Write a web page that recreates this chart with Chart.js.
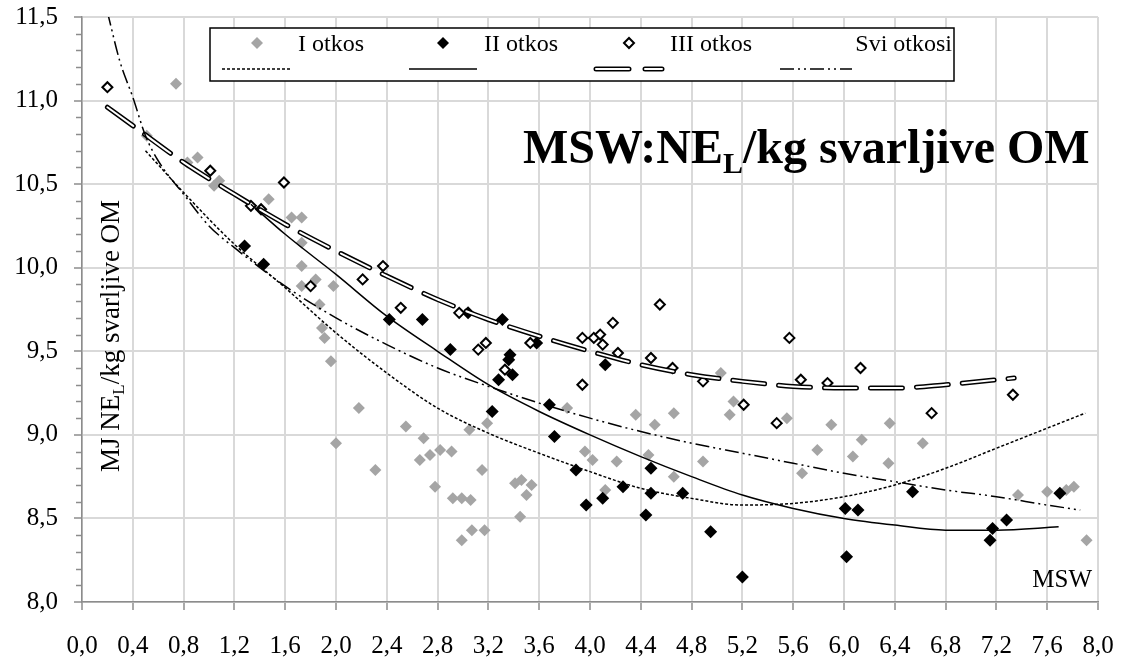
<!DOCTYPE html>
<html>
<head>
<meta charset="utf-8">
<script src="https://cdn.jsdelivr.net/npm/chart.js@4/dist/chart.umd.min.js"></script>
<style>
  body { margin: 0; background: #fff; }
  canvas { display: block; }
</style>
</head>
<body>
<canvas id="msw" width="1121" height="658"></canvas>
<script>
// I otkos (gray)
const xI = [0.51, 0.74, 0.83, 0.91, 1.04, 1.08, 1.47, 1.65, 1.73, 1.73, 1.73, 1.73, 1.84, 1.87, 1.89, 1.91, 1.96, 1.98, 2.00, 2.18,
  2.31, 2.55, 2.66, 2.69, 2.74, 2.78, 2.82, 2.91, 2.92, 2.99, 2.99, 3.05, 3.06, 3.07, 3.15, 3.17, 3.19, 3.41, 3.45, 3.46,
  3.50, 3.54, 3.82, 3.96, 4.02, 4.12, 4.21, 4.36, 4.46, 4.51, 4.66, 4.66, 4.89, 5.03, 5.10, 5.13, 5.55, 5.67, 5.79, 5.90,
  6.07, 6.14, 6.35, 6.36, 6.62, 7.37, 7.60, 7.75, 7.81, 7.91];
const yI = [10.79, 11.10, 10.63, 10.66, 10.49, 10.52, 10.41, 10.30, 10.30, 10.15, 10.01, 9.89, 9.93, 9.78, 9.64, 9.58, 9.44, 9.89, 8.95, 9.16,
  8.79, 9.05, 8.85, 8.98, 8.88, 8.69, 8.91, 8.90, 8.62, 8.62, 8.37, 9.03, 8.61, 8.43, 8.79, 8.43, 9.07, 8.71, 8.51, 8.73,
  8.64, 8.70, 9.16, 8.90, 8.85, 8.67, 8.84, 9.12, 8.88, 9.06, 9.13, 8.75, 8.84, 9.37, 9.12, 9.20, 9.10, 8.77, 8.91, 9.06,
  8.87, 8.97, 8.83, 9.07, 8.95, 8.64, 8.66, 8.67, 8.69, 8.37];

// II otkos (black)
const xII = [1.28, 1.43, 2.42, 2.68, 2.90, 3.04, 3.23, 3.28, 3.31, 3.36, 3.37, 3.39, 3.58, 3.68, 3.72, 3.89, 3.97, 4.10, 4.12, 4.26,
  4.44, 4.48, 4.48, 4.73, 4.95, 5.20, 6.01, 6.02, 6.11, 6.54, 7.15, 7.17, 7.28, 7.70];
const yII = [10.13, 10.02, 9.69, 9.69, 9.51, 9.73, 9.14, 9.33, 9.69, 9.45, 9.48, 9.36, 9.55, 9.18, 8.99, 8.79, 8.58, 8.62, 9.42, 8.69,
  8.52, 8.80, 8.65, 8.65, 8.42, 8.15, 8.56, 8.27, 8.55, 8.66, 8.37, 8.44, 8.49, 8.65];

// III otkos (open)
const xIII = [0.20, 1.01, 1.33, 1.41, 1.59, 1.80, 2.21, 2.37, 2.51, 2.97, 3.12, 3.18, 3.33, 3.53, 3.94, 3.94, 4.03, 4.08, 4.10, 4.18,
  4.22, 4.48, 4.55, 4.65, 4.89, 5.21, 5.47, 5.57, 5.66, 5.87, 6.13, 6.69, 7.33];
const yIII = [11.08, 10.58, 10.37, 10.35, 10.51, 9.89, 9.93, 10.01, 9.76, 9.73, 9.51, 9.55, 9.39, 9.55, 9.58, 9.30, 9.58, 9.60, 9.54, 9.67,
  9.49, 9.46, 9.78, 9.40, 9.32, 9.18, 9.07, 9.58, 9.33, 9.31, 9.40, 9.13, 9.24];

// trend lines
const trendIx = [0.5, 0.8, 1.2, 1.6, 2.0, 2.4, 2.8, 3.2, 3.6, 4.0, 4.4, 4.8, 5.2, 5.6, 6.0, 6.4, 6.8, 7.2, 7.6, 7.9];
const trendIy = [10.70, 10.45, 10.14, 9.88, 9.61, 9.37, 9.16, 9.01, 8.89, 8.78, 8.68, 8.62, 8.58, 8.59, 8.63, 8.70, 8.80, 8.92, 9.04, 9.13];
const trendIIx = [1.33, 1.6, 2.0, 2.4, 2.8, 3.2, 3.6, 4.0, 4.4, 4.8, 5.2, 5.6, 6.0, 6.4, 6.8, 7.2, 7.69];
const trendIIy = [10.38, 10.20, 9.96, 9.71, 9.50, 9.30, 9.14, 9.00, 8.87, 8.75, 8.64, 8.56, 8.50, 8.46, 8.43, 8.43, 8.45];
const trendIIIx = [0.2, 0.4, 0.8, 1.2, 1.6, 2.0, 2.4, 2.8, 3.2, 3.6, 4.0, 4.4, 4.8, 5.2, 5.6, 6.0, 6.4, 6.8, 7.34];
const trendIIIy = [10.96, 10.85, 10.63, 10.44, 10.26, 10.10, 9.95, 9.81, 9.69, 9.59, 9.50, 9.42, 9.36, 9.32, 9.29, 9.28, 9.28, 9.30, 9.34];
const trendAllx = [0.2, 0.3, 0.4, 0.5, 0.6, 0.8, 1.0, 1.2, 1.6, 2.0, 2.4, 2.8, 3.2, 3.6, 4.0, 4.4, 4.8, 5.2, 5.6, 6.0, 6.4, 6.8, 7.2, 7.6, 7.86];
const trendAlly = [11.53, 11.23, 11.02, 10.79, 10.64, 10.44, 10.25, 10.12, 9.89, 9.70, 9.54, 9.40, 9.29, 9.19, 9.10, 9.02, 8.95, 8.89, 8.83, 8.77, 8.72, 8.67, 8.63, 8.58, 8.55];

const xTickLabels = ['0,0', '0,4', '0,8', '1,2', '1,6', '2,0', '2,4', '2,8', '3,2', '3,6', '4,0',
  '4,4', '4,8', '5,2', '5,6', '6,0', '6,4', '6,8', '7,2', '7,6', '8,0'];
const yTickLabels = ['8,0', '8,5', '9,0', '9,5', '10,0', '10,5', '11,0', '11,5'];
const seriesNames = ['I otkos', 'II otkos', 'III otkos', 'Svi otkosi'];

const serif = "'Liberation Serif', 'Times New Roman', serif";
const GRAY = '#a5a5a5';
const AXIS = '#8c8c8c';
const DASH_I = [3, 2];
const DASH_III = [32, 14];
const DASH_ALL = [14, 4, 2, 4, 2, 4];

function pts(xs, ys) {
  return xs.map((x, i) => ({ x: x, y: ys[i] }));
}

function diamond(ctx, x, y, r, fill, stroke, lw) {
  ctx.beginPath();
  ctx.moveTo(x - r, y);
  ctx.lineTo(x, y - r);
  ctx.lineTo(x + r, y);
  ctx.lineTo(x, y + r);
  ctx.closePath();
  ctx.fillStyle = fill;
  ctx.fill();
  if (stroke) {
    ctx.lineWidth = lw;
    ctx.strokeStyle = stroke;
    ctx.stroke();
  }
}

function seg(ctx, x1, x2, y, dash, w, color, cap) {
  ctx.save();
  ctx.beginPath();
  ctx.setLineDash(dash);
  ctx.lineWidth = w;
  ctx.strokeStyle = color;
  ctx.lineCap = cap || 'butt';
  ctx.moveTo(x1, y);
  ctx.lineTo(x2, y);
  ctx.stroke();
  ctx.restore();
}

// text with a subscript L in the middle: "pre" + L + "post"
function subText(ctx, x, y, pre, post, size, weight) {
  ctx.font = weight + ' ' + size + 'px ' + serif;
  ctx.fillText(pre, x, y);
  x += ctx.measureText(pre).width;
  ctx.font = weight + ' ' + Math.round(size * 0.62) + 'px ' + serif;
  ctx.fillText('L', x, y + size * 0.2);
  x += ctx.measureText('L').width;
  ctx.font = weight + ' ' + size + 'px ' + serif;
  ctx.fillText(post, x, y);
}

// legend box, title, axis titles, minor ticks
const extras = {
  id: 'extras',
  afterDraw(chart) {
    const ctx = chart.ctx;
    const ys = chart.scales.y;
    const area = chart.chartArea;

    // minor ticks on y axis
    ctx.save();
    ctx.strokeStyle = AXIS;
    ctx.lineWidth = 1.5;
    for (let k = 80; k <= 115; k++) {
      if (k % 5 === 0) continue;
      const py = Math.round(ys.getPixelForValue(k / 10)) + 0.5;
      ctx.beginPath();
      ctx.moveTo(area.left - 6, py);
      ctx.lineTo(area.left, py);
      ctx.stroke();
    }
    ctx.restore();

    // legend
    ctx.save();
    ctx.fillStyle = '#fff';
    ctx.fillRect(210, 28, 744, 53);
    ctx.strokeStyle = '#000';
    ctx.lineWidth = 1.5;
    ctx.strokeRect(210, 28, 744, 53);

    diamond(ctx, 257, 43, 6, GRAY);
    diamond(ctx, 443, 43, 6, '#000');
    diamond(ctx, 629, 43, 5, '#fff', '#000', 2);

    ctx.fillStyle = '#000';
    ctx.font = '24px ' + serif;
    ctx.textBaseline = 'alphabetic';
    ctx.fillText(seriesNames[0], 298, 51);
    ctx.fillText(seriesNames[1], 484, 51);
    ctx.fillText(seriesNames[2], 670, 51);
    ctx.textAlign = 'right';
    ctx.fillText(seriesNames[3], 952, 51);
    ctx.textAlign = 'left';

    seg(ctx, 222, 290, 69, DASH_I, 1.5, '#000');
    seg(ctx, 409, 477, 69, [], 1.5, '#000');
    seg(ctx, 596, 662, 69, [33, 16], 5, '#000', 'round');
    seg(ctx, 596, 662, 69, [33, 16], 2, '#fff', 'round');
    seg(ctx, 780, 852, 69, DASH_ALL, 1.5, '#000');
    ctx.restore();

    // big title inside plot
    ctx.save();
    ctx.fillStyle = '#000';
    ctx.textBaseline = 'alphabetic';
    subText(ctx, 523, 163, 'MSW:NE', '/kg svarljive OM', 48, 'bold');
    ctx.restore();

    // y axis title, inside plot
    ctx.save();
    ctx.fillStyle = '#000';
    ctx.translate(119, 472);
    ctx.rotate(-Math.PI / 2);
    ctx.textBaseline = 'alphabetic';
    subText(ctx, 0, 0, 'MJ NE', '/kg svarljive OM', 27, 'normal');
    ctx.restore();

    // x axis title
    ctx.save();
    ctx.fillStyle = '#000';
    ctx.font = '25px ' + serif;
    ctx.textAlign = 'right';
    ctx.fillText('MSW', 1092, 587);
    ctx.restore();
  }
};

const ctx = document.getElementById('msw').getContext('2d');

const chart = new Chart(ctx, {
  type: 'scatter',
  data: {
    datasets: [
      { label: seriesNames[3], data: pts(trendAllx, trendAlly), showLine: true, pointRadius: 0,
        borderColor: '#000', borderWidth: 1.5, borderDash: DASH_ALL, cubicInterpolationMode: 'monotone', order: 1 },
      { label: 'III trend white', data: pts(trendIIIx, trendIIIy), showLine: true, pointRadius: 0,
        borderColor: '#fff', borderWidth: 2, borderDash: DASH_III, borderCapStyle: 'round',
        cubicInterpolationMode: 'monotone', order: 2 },
      { label: 'III trend', data: pts(trendIIIx, trendIIIy), showLine: true, pointRadius: 0,
        borderColor: '#000', borderWidth: 5, borderDash: DASH_III, borderCapStyle: 'round',
        cubicInterpolationMode: 'monotone', order: 3 },
      { label: 'II trend', data: pts(trendIIx, trendIIy), showLine: true, pointRadius: 0,
        borderColor: '#000', borderWidth: 1.5, cubicInterpolationMode: 'monotone', order: 4 },
      { label: 'I trend', data: pts(trendIx, trendIy), showLine: true, pointRadius: 0,
        borderColor: '#000', borderWidth: 1.5, borderDash: DASH_I, cubicInterpolationMode: 'monotone', order: 5 },
      { label: seriesNames[2], data: pts(xIII, yIII), pointStyle: 'rectRot', pointRadius: 5,
        backgroundColor: '#fff', borderColor: '#000', borderWidth: 2, order: 6 },
      { label: seriesNames[1], data: pts(xII, yII), pointStyle: 'rectRot', pointRadius: 6.5,
        backgroundColor: '#000', borderColor: '#000', borderWidth: 0, order: 7 },
      { label: seriesNames[0], data: pts(xI, yI), pointStyle: 'rectRot', pointRadius: 6,
        backgroundColor: GRAY, borderColor: GRAY, borderWidth: 0, order: 8 }
    ]
  },
  options: {
    responsive: false,
    animation: false,
    devicePixelRatio: 1,
    layout: { padding: { top: 17, right: 23, left: 0, bottom: 0 } },
    plugins: {
      legend: { display: false },
      tooltip: { enabled: false },
      title: { display: false }
    },
    scales: {
      x: {
        type: 'linear',
        min: 0,
        max: 8,
        // fixed box: the tick labels must not push the plot area around
        afterFit: (s) => { s.height = 56; s.paddingLeft = 0; s.paddingRight = 0; },
        ticks: {
          stepSize: 0.4,
          color: '#000',
          font: { family: serif, size: 25 },
          padding: 21,
          maxRotation: 0,
          autoSkip: false,
          callback: (v, i) => xTickLabels[i] !== undefined ? xTickLabels[i] : ''
        },
        grid: { color: '#d9d9d9', lineWidth: 2, tickLength: 8, tickColor: AXIS, tickWidth: 1.5 },
        border: { color: AXIS, width: 1.5 }
      },
      y: {
        type: 'linear',
        min: 8,
        max: 11.5,
        afterFit: (s) => { s.width = 82; s.paddingTop = 0; s.paddingBottom = 0; },
        ticks: {
          stepSize: 0.5,
          color: '#000',
          font: { family: serif, size: 25 },
          padding: 16,
          callback: (v, i) => yTickLabels[i] !== undefined ? yTickLabels[i] : ''
        },
        grid: { color: '#d9d9d9', lineWidth: 2, tickLength: 8, tickColor: AXIS, tickWidth: 1.5 },
        border: { color: AXIS, width: 1.5 }
      }
    }
  },
  plugins: [extras]
});
</script>
</body>
</html>
